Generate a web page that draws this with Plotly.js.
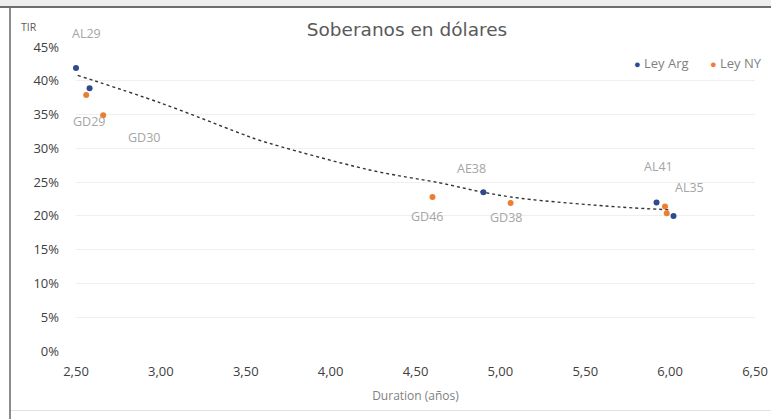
<!DOCTYPE html>
<html>
<head>
<meta charset="utf-8">
<script src="https://cdn.plot.ly/plotly-3.0.1.min.js"></script>
<style>
  html, body { margin: 0; padding: 0; background: #ffffff; overflow: hidden; }
  #wrap { position: relative; width: 771px; height: 419px; overflow: hidden; }
  #chart { position: absolute; left: 0; top: 0; width: 771px; height: 419px; }
  .frame { position: absolute; pointer-events: none; }
</style>
</head>
<body>
<div id="wrap">
  <div id="chart"></div>
  <div class="frame" style="left:0;top:0;width:771px;height:6px;background:#eeeeee;"></div>
  <div class="frame" style="left:0;top:6px;width:771px;height:2px;background:#6e6e6e;"></div>
  <div class="frame" style="left:9px;top:8px;width:2px;height:411px;background:#8c8c8c;"></div>
  <div class="frame" style="left:11px;top:410px;width:760px;height:1px;background:#e2e2e2;"></div>
</div>
<script>
// ---- Data ----
const seriesNames = ["Ley Arg", "Ley NY"];

const leyArgNames = ["AL29", "AL30", "AE38", "AL41", "AL35"];
const leyArgDur   = [2.50, 2.58, 4.90, 5.92, 6.02];
const leyArgTir   = [0.419, 0.389, 0.235, 0.220, 0.200];

const leyNYNames  = ["GD29", "GD30", "GD46", "GD38", "GD35", "GD41"];
const leyNYDur    = [2.56, 2.66, 4.60, 5.06, 5.97, 5.98];
const leyNYTir    = [0.379, 0.349, 0.228, 0.219, 0.214, 0.204];

// trend line points
const trendDur = [2.51, 3.00, 3.47, 3.58, 4.23, 4.64, 4.90, 5.12, 5.71, 6.00];
const trendTir = [0.408, 0.367, 0.322, 0.312, 0.268, 0.249, 0.235, 0.226, 0.213, 0.209];

const yTicks = [0, 0.05, 0.10, 0.15, 0.20, 0.25, 0.30, 0.35, 0.40, 0.45];
const xTicks = [2.5, 3.0, 3.5, 4.0, 4.5, 5.0, 5.5, 6.0, 6.5];

// labelled points: [series, index] and pixel offsets (styling)
const labelled = [
  {s: "arg", i: 0, dx: 10, dy: 34},
  {s: "ny",  i: 0, dx: 3,  dy: -27},
  {s: "ny",  i: 1, dx: 41, dy: -22},
  {s: "arg", i: 2, dx: -12, dy: 24},
  {s: "ny",  i: 2, dx: -5, dy: -20},
  {s: "ny",  i: 3, dx: -5, dy: -14},
  {s: "arg", i: 3, dx: 2,  dy: 36},
  {s: "arg", i: 4, dx: 16, dy: 28}
];

const blue = "#2f4b8c";
const orange = "#ed7d31";
const font = "Open Sans, Liberation Sans, sans-serif";

const traces = [
  {
    x: trendDur, y: trendTir, mode: "lines", type: "scatter",
    line: {color: "#333333", width: 1.4, dash: "dot", shape: "spline"},
    showlegend: false, hoverinfo: "skip", cliponaxis: false
  },
  {
    x: leyArgDur, y: leyArgTir, text: leyArgNames, name: seriesNames[0],
    mode: "markers", type: "scatter", cliponaxis: false,
    marker: {color: blue, size: 6}
  },
  {
    x: leyNYDur, y: leyNYTir, text: leyNYNames, name: seriesNames[1],
    mode: "markers", type: "scatter", cliponaxis: false,
    marker: {color: orange, size: 6}
  }
];

const annotations = labelled.map(l => {
  const xs = l.s === "arg" ? leyArgDur : leyNYDur;
  const ys = l.s === "arg" ? leyArgTir : leyNYTir;
  const ns = l.s === "arg" ? leyArgNames : leyNYNames;
  return {
    x: xs[l.i], y: ys[l.i], xref: "x", yref: "y",
    text: ns[l.i], showarrow: false, xshift: l.dx, yshift: l.dy,
    font: {family: font, size: 12.5, color: "#a5a5a5"}
  };
});

annotations.push({
  xref: "paper", yref: "paper", x: -0.084, y: 1.065, xanchor: "left", yanchor: "middle",
  text: "TIR", showarrow: false,
  font: {family: font, size: 10.5, color: "#595959"}
});

// legend entries drawn from the traces' names and colours
const legendX = [(632 - 76) / 679, (708 - 76) / 679];
[traces[1], traces[2]].forEach((t, k) => {
  annotations.push({
    xref: "paper", yref: "paper", x: legendX[k], y: 1 - (63 - 47) / 304,
    xanchor: "left", yanchor: "middle", showarrow: false,
    text: '<span style="font-size:11px;color:' + t.marker.color + '">●</span> ' + t.name,
    font: {family: font, size: 13, color: "#7f7f7f"}
  });
});

const layout = {
  width: 771, height: 419,
  margin: {l: 76, r: 16, t: 47, b: 68},
  paper_bgcolor: "#ffffff", plot_bgcolor: "#ffffff",
  separators: ",.",
  showlegend: false,
  title: {
    text: "Soberanos en dólares",
    x: 407 / 771, xanchor: "center", y: 1 - 30 / 419, yanchor: "middle",
    font: {family: "DejaVu Sans, sans-serif", size: 18.5, color: "#595959"}
  },
  xaxis: {
    range: [2.5, 6.5], tickvals: xTicks, tickformat: ".2f", automargin: false,
    showgrid: false, zeroline: false, showline: false,
    ticks: "", ticklabelstandoff: 11,
    tickfont: {family: font, size: 13, color: "#404040"},
    title: {text: "Duration (años)", standoff: 12,
            font: {family: font, size: 12, color: "#7f7f7f"}}
  },
  yaxis: {
    range: [0, 0.45], tickvals: yTicks, tickformat: ".0%", automargin: false,
    showgrid: true, gridcolor: "#efefef", gridwidth: 1,
    zeroline: false, showline: false,
    ticks: "", ticklabelstandoff: 16,
    tickfont: {family: font, size: 13, color: "#404040"}
  },
  annotations: annotations
};

Plotly.newPlot("chart", traces, layout, {displayModeBar: false, staticPlot: true});
</script>
</body>
</html>
